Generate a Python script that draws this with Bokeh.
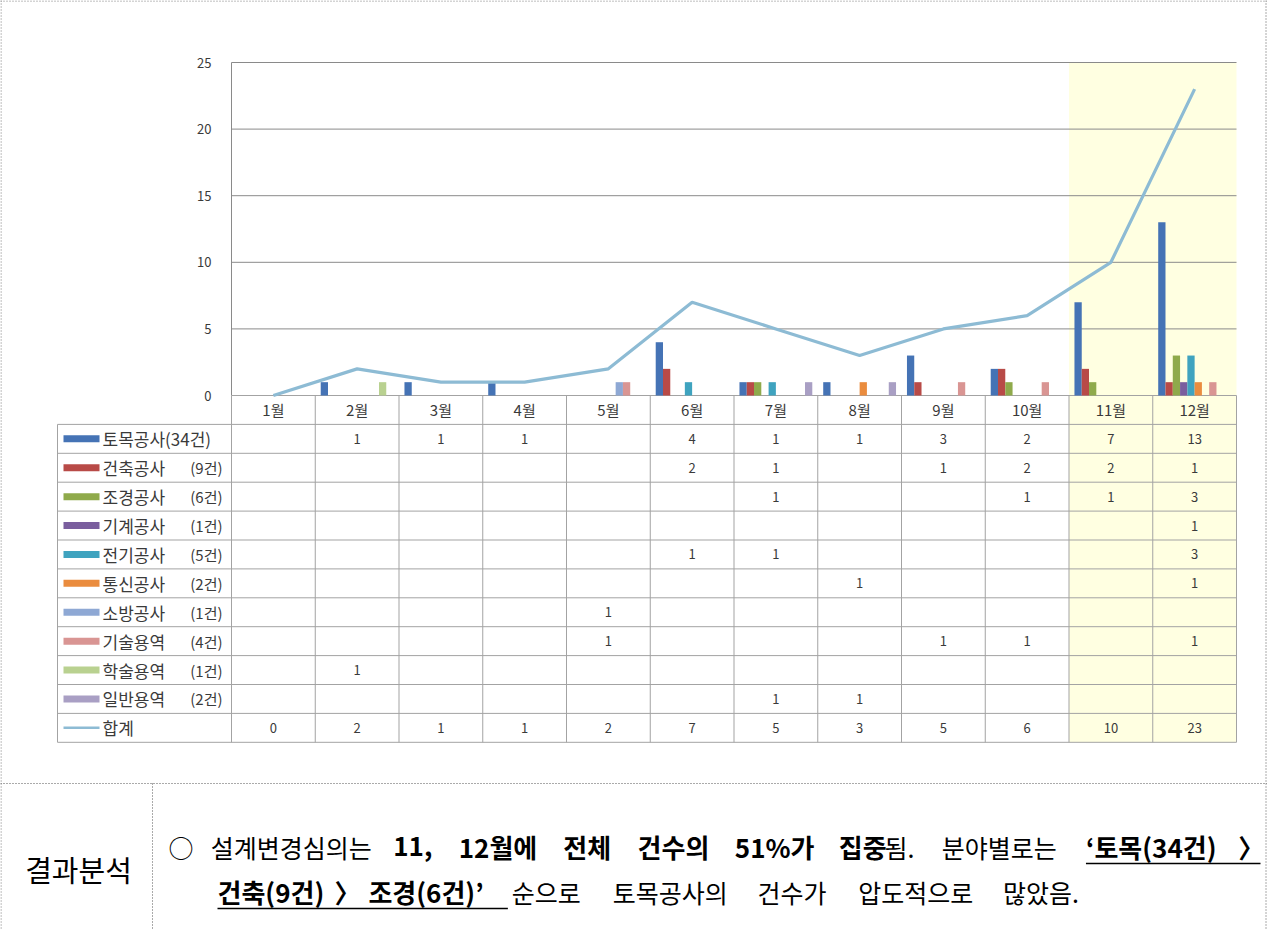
from bokeh.plotting import figure
from bokeh.models import Range1d
from bokeh.core.properties import value
from bokeh.embed import file_html
from bokeh.resources import INLINE

# ---------------- data ----------------
months = ["1월", "2월", "3월", "4월", "5월", "6월", "7월", "8월", "9월", "10월", "11월", "12월"]
legend_names = ["토목공사", "건축공사", "조경공사", "기계공사", "전기공사",
                "통신공사", "소방공사", "기술용역", "학술용역", "일반용역"]
legend_counts = ["(34건)", "(9건)", "(6건)", "(1건)", "(5건)", "(2건)", "(1건)", "(4건)", "(1건)", "(2건)"]
N = None
v_tomok = [N, 1, 1, 1, N, 4, 1, 1, 3, 2, 7, 13]
v_geonchuk = [N, N, N, N, N, 2, 1, N, 1, 2, 2, 1]
v_jogyeong = [N, N, N, N, N, N, 1, N, N, 1, 1, 3]
v_gigye = [N, N, N, N, N, N, N, N, N, N, N, 1]
v_jeongi = [N, N, N, N, N, 1, 1, N, N, N, N, 3]
v_tongsin = [N, N, N, N, N, N, N, 1, N, N, N, 1]
v_sobang = [N, N, N, N, 1, N, N, N, N, N, N, N]
v_gisul = [N, N, N, N, 1, N, N, N, 1, 1, N, 1]
v_haksul = [N, 1, N, N, N, N, N, N, N, N, N, N]
v_ilban = [N, N, N, N, N, N, 1, 1, N, N, N, N]
series_values = [v_tomok, v_geonchuk, v_jogyeong, v_gigye, v_jeongi,
                 v_tongsin, v_sobang, v_gisul, v_haksul, v_ilban]
total_label = "합계"
totals = [0, 2, 1, 1, 2, 7, 5, 3, 5, 6, 10, 23]
y_ticks = [0, 5, 10, 15, 20, 25]
highlight_months = ["11월", "12월"]

# ---------------- style ----------------
FONT = "Noto Sans CJK KR"
series_colors = ["#4573B5", "#B84A47", "#8FAA4B", "#7A5E9E", "#3FA3BF",
                 "#EA8C3E", "#8EA8D4", "#D99593", "#B9D190", "#A99FC4"]
line_color = "#8DBBD4"
grid_color = "#8A8A8A"
table_color = "#A3A3A3"
txt_color = "#3A3A3A"

W, H = 1267, 929
CH_LEFT = 231.0      # px where the category axis starts
COL_W = 83.75        # px per month
ZERO_Y = 395.0       # px of value 0
UNIT = 13.32         # px per count
ROW_H = 28.9         # table row height
LEG_LEFT = 57.0      # left edge of the table legend column

p = figure(width=W, height=H, min_border=0, toolbar_location=None, output_backend="svg",
           x_axis_location=None, y_axis_location=None, title=None,
           x_range=Range1d(-0.5 - CH_LEFT / COL_W, -0.5 + (W - CH_LEFT) / COL_W),
           y_range=Range1d(-(H - ZERO_Y) / UNIT, ZERO_Y / UNIT),
           outline_line_color=None, background_fill_color="white", border_fill_color="white")
p.extra_x_ranges = {"px": Range1d(0, W)}
p.extra_y_ranges = {"px": Range1d(H, 0),
                    "row": Range1d((H - ZERO_Y) / ROW_H, -ZERO_Y / ROW_H)}
p.grid.visible = False

n_m = len(months)
n_s = len(series_values)
x_lo, x_hi = -0.5, n_m - 0.5
leg_left_m = -0.5 - (CH_LEFT - LEG_LEFT) / COL_W
last_row = n_s + 2

# highlight band
hi = [months.index(m) for m in highlight_months]
p.quad(left=[min(hi) - 0.5], right=[max(hi) + 0.5], top=[-(max(y_ticks) * UNIT) / ROW_H],
       bottom=[last_row], y_range_name="row", fill_color="#FFFFE1", line_color=None)

# gridlines & value axis line
gt = [t for t in y_ticks if t > 0]
p.segment(x0=[x_lo] * len(gt), x1=[x_hi] * len(gt), y0=gt, y1=gt, line_color=grid_color, line_width=1)
p.segment(x0=[x_lo], x1=[x_lo], y0=[0], y1=[max(y_ticks)], line_color=grid_color, line_width=1)
p.text(x=[x_lo] * len(y_ticks), y=y_ticks, text=[str(t) for t in y_ticks], x_offset=-20,
       text_align="right", text_baseline="middle", text_font=value(FONT),
       text_font_size="13px", text_color=txt_color)

# table grid
hy = list(range(0, last_row + 1))
p.segment(x0=[x_lo if k == 0 else leg_left_m for k in hy], x1=[x_hi] * len(hy), y0=hy, y1=hy,
          y_range_name="row", line_color=table_color, line_width=1)
vx = [i - 0.5 for i in range(n_m + 1)]
p.segment(x0=vx, x1=vx, y0=[0] * len(vx), y1=[last_row] * len(vx), y_range_name="row",
          line_color=table_color, line_width=1)
p.segment(x0=[leg_left_m], x1=[leg_left_m], y0=[1], y1=[last_row], y_range_name="row",
          line_color=table_color, line_width=1)

# header labels
p.text(x=list(range(n_m)), y=[0.5] * n_m, text=months, y_range_name="row",
       text_align="center", text_baseline="middle", text_font=value(FONT),
       text_font_size="15px", text_color=txt_color)

# cell values
cx, cy, ct = [], [], []
for r, vals in enumerate(series_values):
    for i, v in enumerate(vals):
        if v is not None:
            cx.append(i); cy.append(r + 1.5); ct.append(str(v))
for i, v in enumerate(totals):
    cx.append(i); cy.append(n_s + 1.5); ct.append(str(v))
p.text(x=cx, y=cy, text=ct, y_range_name="row", text_align="center", text_baseline="middle",
       text_font=value(FONT), text_font_size="13px", text_color=txt_color)

# legend column: first label runs together, the others have the count pushed right
ry = [r + 1.5 for r in range(n_s)]
p.rect(x=[LEG_LEFT + 24] * n_s, y=ry, width=36, height=7, height_units="screen",
       x_range_name="px", y_range_name="row", fill_color=series_colors, line_color=None)
p.segment(x0=[LEG_LEFT + 6], x1=[LEG_LEFT + 42], y0=[n_s + 1.5], y1=[n_s + 1.5],
          x_range_name="px", y_range_name="row", line_color=line_color, line_width=2.5)
left_txt = [legend_names[0] + legend_counts[0]] + legend_names[1:] + [total_label]
p.text(x=[LEG_LEFT + 45] * (n_s + 1), y=ry + [n_s + 1.5], text=left_txt,
       x_range_name="px", y_range_name="row", text_align="left", text_baseline="middle",
       text_font=value(FONT), text_font_size="17px", text_color=txt_color)
p.text(x=[LEG_LEFT + 165] * (n_s - 1), y=ry[1:], text=legend_counts[1:],
       x_range_name="px", y_range_name="row", text_align="right", text_baseline="middle",
       text_font=value(FONT), text_font_size="15px", text_color=txt_color)

# clustered bars (Excel-like: gap width 150%)
bw = 1.0 / (n_s + 1.5)
for k, vals in enumerate(series_values):
    xs = [i + (k - (n_s - 1) / 2) * bw for i, v in enumerate(vals) if v is not None]
    ts = [v for v in vals if v is not None]
    p.vbar(x=xs, top=ts, bottom=0, width=bw, fill_color=series_colors[k], line_color=None)

# total line
p.line(x=list(range(n_m)), y=totals, line_color=line_color, line_width=3.2)

# ---------------- analysis box ----------------
DOT = dict(x_range_name="px", y_range_name="px", line_color="#555555", line_width=1, line_dash="1 2")
p.segment(x0=[0.5, W - 1.5, 0, 0], x1=[0.5, W - 1.5, W, W], y0=[0, 0, 0.5, 783], y1=[H, H, 0.5, 783], **DOT)
p.segment(x0=[152], x1=[152], y0=[783], y1=[H], **DOT)

p.text(x=[78], y=[868], text=["결과분석"], x_range_name="px", y_range_name="px",
       text_align="center", text_baseline="middle", text_font=value(FONT),
       text_font_size="29px", text_color="#000000")

NORM, BOLD = 25, 26


def text_w(s, size, bold):
    w = 0.0
    for ch in s:
        if "\uac00" <= ch <= "\ud7a3":
            w += 0.88
        elif ch == "○":
            w += 1.0
        elif ch == "〉":
            w += 0.7
        elif ch.isdigit():
            w += 0.58 if bold else 0.555
        elif ch in ",.":
            w += 0.26
        elif ch == "%":
            w += 0.86
        elif ch in "()":
            w += 0.34
        elif ch in "‘’":
            w += 0.28
        else:
            w += 0.3
    return w * size


# (text, bold, relative width of the space before it; 0 = joined)
line1 = [("○", False, 0), ("설계변경심의는", False, 0.6), ("11,", True, 1),
         ("12월에", True, 1), ("전체", True, 1), ("건수의", True, 1),
         ("51%가", True, 1), ("집중", True, 1), ("됨.", False, 0),
         ("분야별로는", False, 1), ("‘토목(34건)", True, 1.2), ("〉", True, 1)]
line2 = [("건축(9건)", True, 0), ("〉", True, 0.45), ("조경(6건)’", True, 0.45),
         ("순으로", False, 1), ("토목공사의", False, 1), ("건수가", False, 1),
         ("압도적으로", False, 1), ("많았음.", False, 1)]


def layout(tokens, x_start, x_end):
    widths = [text_w(t, BOLD if b else NORM, b) for t, b, _ in tokens]
    weight = sum(g for _, _, g in tokens[1:])
    gap = (x_end - x_start - sum(widths)) / weight
    xs, x = [], x_start
    for i, (t, b, g) in enumerate(tokens):
        if i > 0:
            x += gap * g
        xs.append(x)
        x += widths[i]
    return xs, widths, gap


xs1, w1, g1 = layout(line1, 168, 1256)
xs2, w2, g2 = layout(line2, 217, 1075)
Y1, Y2 = 846, 891
placed = [(t, b, x, Y1) for (t, b, _), x in zip(line1, xs1)] + \
         [(t, b, x, Y2) for (t, b, _), x in zip(line2, xs2)]
for bold in (False, True):
    sel = [w for w in placed if w[1] == bold]
    p.text(x=[w[2] for w in sel], y=[w[3] for w in sel], text=[w[0] for w in sel],
           x_range_name="px", y_range_name="px", text_align="left", text_baseline="middle",
           text_font=value(FONT), text_font_size=f"{BOLD if bold else NORM}px",
           text_font_style="bold" if bold else "normal", text_color="#000000")
u1_x0 = xs1[10]
u1_x1 = min(xs1[11] + w1[11] + 4, W - 1)
u2_x0 = xs2[0]
u2_x1 = xs2[3] - 4
p.segment(x0=[u1_x0, u2_x0], x1=[u1_x1, u2_x1], y0=[Y1 + 17, Y2 + 17], y1=[Y1 + 17, Y2 + 17],
          x_range_name="px", y_range_name="px", line_color="#000000", line_width=1.4)

open("out.html", "w").write(file_html(p, INLINE))
